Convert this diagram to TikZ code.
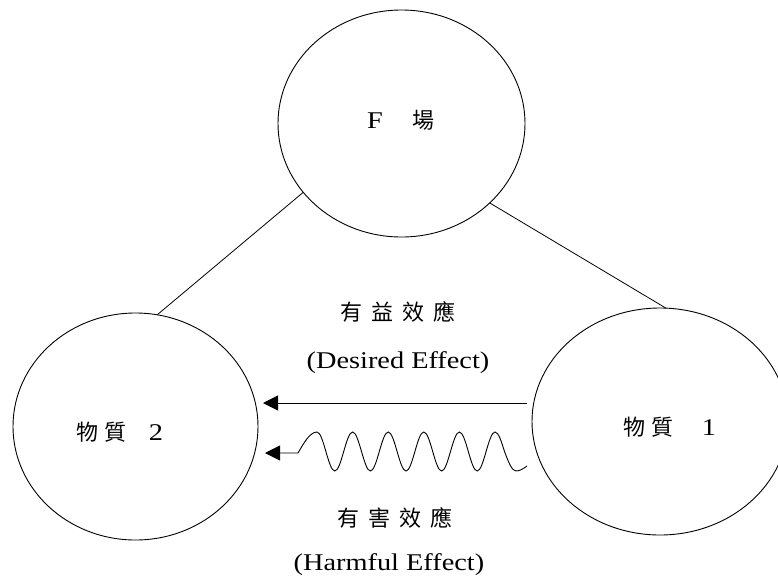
\documentclass[tikz,border=0pt]{standalone}
\usepackage{fontspec}
\setmainfont{Liberation Serif}
\newfontfamily\cjk{Noto Sans CJK TC}
\newfontfamily\latw[FakeStretch=1.18]{Liberation Serif}
\usetikzlibrary{shapes.geometric,arrows.meta}
\tikzset{
  circ/.style={draw, ellipse, line width=0.9pt, inner sep=0pt, outer sep=0pt},
  link/.style={line width=0.8pt},
  effarrow/.style={line width=0.9pt, {Triangle[length=15pt,width=15pt]}-},
  cjklab/.style={font=\cjk\fontsize{22}{22}\selectfont, inner sep=0pt},
  latlab/.style={font=\latw\fontsize{24}{24}\selectfont, inner sep=0pt},
}
\newcommand{\gapc}{\hspace{9pt}}
\newcommand{\latn}{\latw\fontsize{24}{24}\selectfont}
\begin{document}
\begin{tikzpicture}[x=1pt,y=-1pt]
\useasboundingbox (0,0) rectangle (778,579);
% circles
\node[circ, minimum width=247pt, minimum height=227pt] (F) at (401.5,123.5) {};
\node[circ, minimum width=245pt, minimum height=227pt] (m2) at (135.5,426.5) {};
\node[circ, minimum width=256pt, minimum height=227pt] (m1) at (660,421.5) {};
% labels inside circles
\node[cjklab] (Flab) at (401,120) {{\latn F}\hspace{30pt}場};
\node[cjklab] (m2lab) at (120,432) {物\hspace{6pt}質\hspace{22pt}{\latn 2}};
\node[cjklab] (m1lab) at (670,427) {物\hspace{6pt}質\hspace{28pt}{\latn 1}};
% links from field
\draw[link] (F.215) -- (m2.79);
\draw[link] (F.318) -- (m1.87);
% effect labels
\node[cjklab] (good) at (398,312) {有\gapc 益\gapc 效\gapc 應};
\node[latlab] (goode) at (398,363) {(Desired Effect)};
\node[cjklab] (bad) at (395,518) {有\gapc 害\gapc 效\gapc 應};
\node[latlab] (bade) at (389,565) {(Harmful Effect)};
% arrows
\coordinate (s1) at (527,403);
\coordinate (t1) at (263,403);
\coordinate (t2) at (265,453);
\coordinate (s2) at (527,466);
\draw[effarrow] (t1) -- (s1);
\draw[effarrow] (t2) -- (298,453) sin (317,432)
  cos (325.9,451.5) sin (334.8,471)
  cos (343.7,451.5) sin (352.6,432)
  cos (361.5,451.5) sin (370.4,471)
  cos (379.3,451.5) sin (388.2,432)
  cos (397.1,451.5) sin (406,471)
  cos (414.9,451.5) sin (423.8,432)
  cos (432.7,451.5) sin (441.6,471)
  cos (450.5,451.5) sin (459.4,432)
  cos (468.3,451.5) sin (477.2,471)
  cos (486.1,451.5) sin (495,432)
  cos (504.5,451.5) sin (516,471)
  cos (s2);
\end{tikzpicture}
\end{document}
